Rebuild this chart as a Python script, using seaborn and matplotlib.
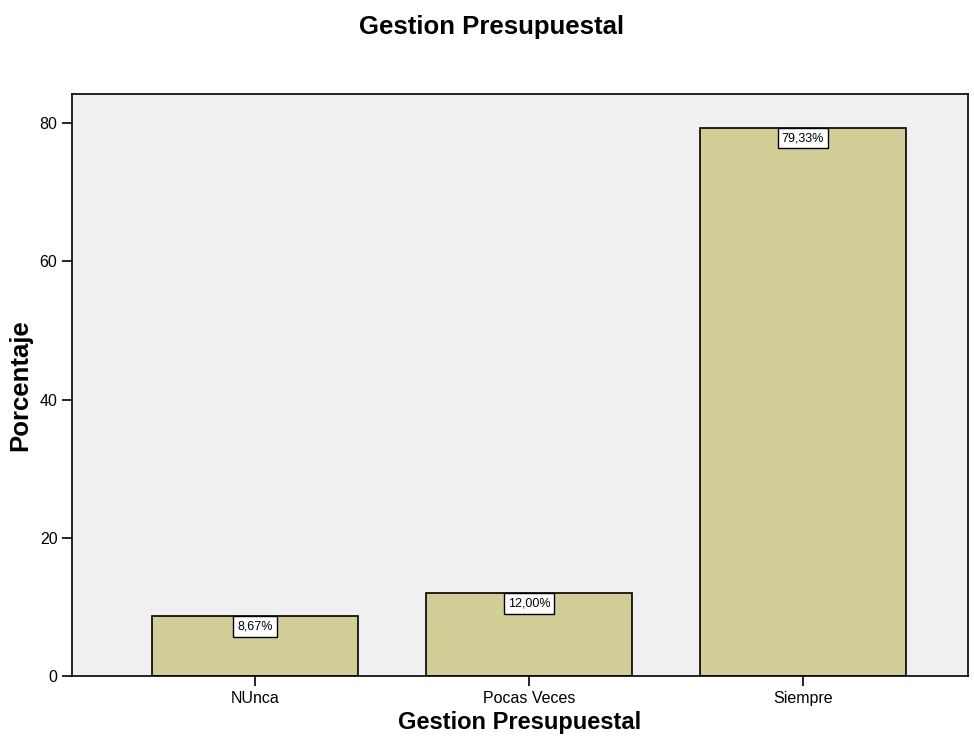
import matplotlib
matplotlib.use("Agg")
import matplotlib.pyplot as plt
import seaborn as sns
import pandas as pd

categories = ["NUnca", "Pocas Veces", "Siempre"]
percentages = [8.67, 12.00, 79.33]
labels = ["8,67%", "12,00%", "79,33%"]

df = pd.DataFrame({"cat": categories, "pct": percentages})

sns.set_style("white", {"text.color": "black", "axes.labelcolor": "black",
                        "xtick.color": "black", "ytick.color": "black"})
plt.rcParams["font.family"] = ["Liberation Sans", "DejaVu Sans"]

fig = plt.figure(figsize=(9.74, 7.42), dpi=100)
ax = fig.add_axes([0.0739, 0.0889, 0.9199, 0.7844])
ax.set_facecolor("#F0F0F0")

sns.barplot(data=df, x="cat", y="pct", color="#D3CE97", saturation=1,
            width=0.75, edgecolor="black", linewidth=1.2, ax=ax)

# value boxes hanging from the top of each bar
for bar, lab in zip(ax.patches, labels):
    ax.annotate(lab, (bar.get_x() + bar.get_width() / 2, bar.get_height()),
                xytext=(0, -3.2), textcoords="offset points", ha="center", va="top",
                fontsize=9, color="black",
                bbox=dict(boxstyle="square,pad=0.33", fc="white", ec="black", lw=1))

ax.set_xlim(-0.668, 2.602)
ax.set_ylim(0, 84.2)
ax.set_yticks([0, 20, 40, 60, 80])
for s in ax.spines.values():
    s.set_color("black")
    s.set_linewidth(1.2)
ax.tick_params(axis="both", direction="out", length=7, width=1.2, color="black",
               labelsize=11.5, labelcolor="black", left=True, bottom=True)
ax.set_xlabel("Gestion Presupuestal", fontsize=17, fontweight="bold", labelpad=4)
ax.set_ylabel("Porcentaje", fontsize=18.5, fontweight="bold", labelpad=5)
fig.text(0.505, 0.963, "Gestion Presupuestal", fontsize=18.5, fontweight="bold",
         ha="center", va="center")

fig.savefig("out.png", dpi=100)
